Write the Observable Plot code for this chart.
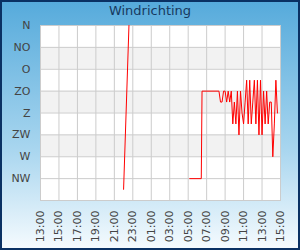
<!DOCTYPE html>
<html><head><meta charset="utf-8">
<script src="https://cdn.jsdelivr.net/npm/d3@7"></script>
<script src="https://cdn.jsdelivr.net/npm/@observablehq/plot@0.6"></script>
<style>
body{margin:0}
#chart{position:relative;width:300px;height:250px;background:linear-gradient(#55aadb 0%,#a9d6ef 60%,#f6fbfe 100%);font-family:"DejaVu Sans",sans-serif;overflow:hidden}
#chart::after{content:"";position:absolute;inset:0;box-shadow:inset 0 0 0 2px #0a3163;pointer-events:none}
#title{position:absolute;top:3px;left:0;width:100%;text-align:center;font-size:13px;color:#17395f}
#chart svg{position:absolute;top:0;left:0}
</style></head>
<body>
<div id="chart"><div id="title">Windrichting</div></div>
<script>
const xDomain = ["2024-05-01T13:00", "2024-05-02T15:00"];
const xTickTimes = ["2024-05-01T13:00","2024-05-01T15:00","2024-05-01T17:00","2024-05-01T19:00","2024-05-01T21:00","2024-05-01T23:00","2024-05-02T01:00","2024-05-02T03:00","2024-05-02T05:00","2024-05-02T07:00","2024-05-02T09:00","2024-05-02T11:00","2024-05-02T13:00","2024-05-02T15:00"];
const yTicks = [0, 45, 90, 135, 180, 225, 270, 315];
const yLabels = ["N", "NO", "O", "ZO", "Z", "ZW", "W", "NW"];
const bandStarts = [45, 135, 225];

const times = [
  "2024-05-01T22:00","2024-05-01T22:35","2024-05-01T23:00",
  "2024-05-02T05:10","2024-05-02T06:25","2024-05-02T06:30","2024-05-02T08:20",
  "2024-05-02T08:30","2024-05-02T08:40","2024-05-02T08:50","2024-05-02T09:00","2024-05-02T09:10","2024-05-02T09:20",
  "2024-05-02T09:30","2024-05-02T09:40","2024-05-02T09:50","2024-05-02T10:00","2024-05-02T10:10","2024-05-02T10:20",
  "2024-05-02T10:30","2024-05-02T10:40","2024-05-02T10:50","2024-05-02T11:00","2024-05-02T11:10","2024-05-02T11:20",
  "2024-05-02T11:30","2024-05-02T11:40","2024-05-02T11:50","2024-05-02T12:00","2024-05-02T12:10","2024-05-02T12:20",
  "2024-05-02T12:30","2024-05-02T12:40","2024-05-02T12:50","2024-05-02T13:00","2024-05-02T13:10","2024-05-02T13:20",
  "2024-05-02T13:30","2024-05-02T13:40","2024-05-02T13:50","2024-05-02T14:00","2024-05-02T14:10","2024-05-02T14:20",
  "2024-05-02T14:30","2024-05-02T14:40"
];
const directions = [
  337, 0, null,
  315, 315, 135, 135,
  157.5, 157.5, 135, 135, 157.5, 135,
  157.5, 135, 202.5, 157.5, 202.5, 135,
  225, 135, 180, 202.5, 157.5, 112.5,
  202.5, 112.5, 202.5, 157.5, 112.5, 202.5,
  112.5, 225, 112.5, 225, 135, 202.5,
  135, 202.5, 157.5, 157.5, 270, 202.5,
  112.5, 180
];

const parse = s => new Date(s + ":00Z");
const data = times.map((t, i) => ({t: parse(t), v: directions[i]}));
const x0 = parse(xDomain[0]), x1 = parse(xDomain[1]);
const xTicks = xTickTimes.map(parse);
const bands = bandStarts.map(b => ({y1: b, y2: b + 45}));

const chart = Plot.plot({
  width: 300, height: 250,
  marginTop: 25, marginBottom: 50, marginLeft: 40, marginRight: 20,
  style: {background: "transparent", fontFamily: "DejaVu Sans, sans-serif", fontSize: "11px", color: "#444"},
  x: {type: "utc", domain: [x0, x1]},
  y: {domain: [0, 360], reverse: true},
  marks: [
    Plot.frame({fill: "white", stroke: null}),
    Plot.rect(bands, {x1: () => x0, x2: () => x1, y1: "y1", y2: "y2", fill: "#f2f2f2"}),
    Plot.gridX(xTicks, {stroke: "#cccccc", strokeOpacity: 1}),
    Plot.gridY(yTicks, {stroke: "#cccccc", strokeOpacity: 1}),
    Plot.frame({stroke: "#cccccc"}),
    Plot.line(data, {x: "t", y: "v", stroke: "red", strokeWidth: 1, clip: true}),
    Plot.axisX(xTicks, {tickFormat: d3.utcFormat("%H:%M"), tickRotate: -90, tickSize: 0, tickPadding: 10, label: null, fill: "#444"}),
    Plot.axisY(yTicks, {tickFormat: d => yLabels[yTicks.indexOf(d)], tickSize: 0, tickPadding: 10, label: null, fill: "#444"})
  ]
});
document.getElementById("chart").appendChild(chart);
</script>
</body></html>
